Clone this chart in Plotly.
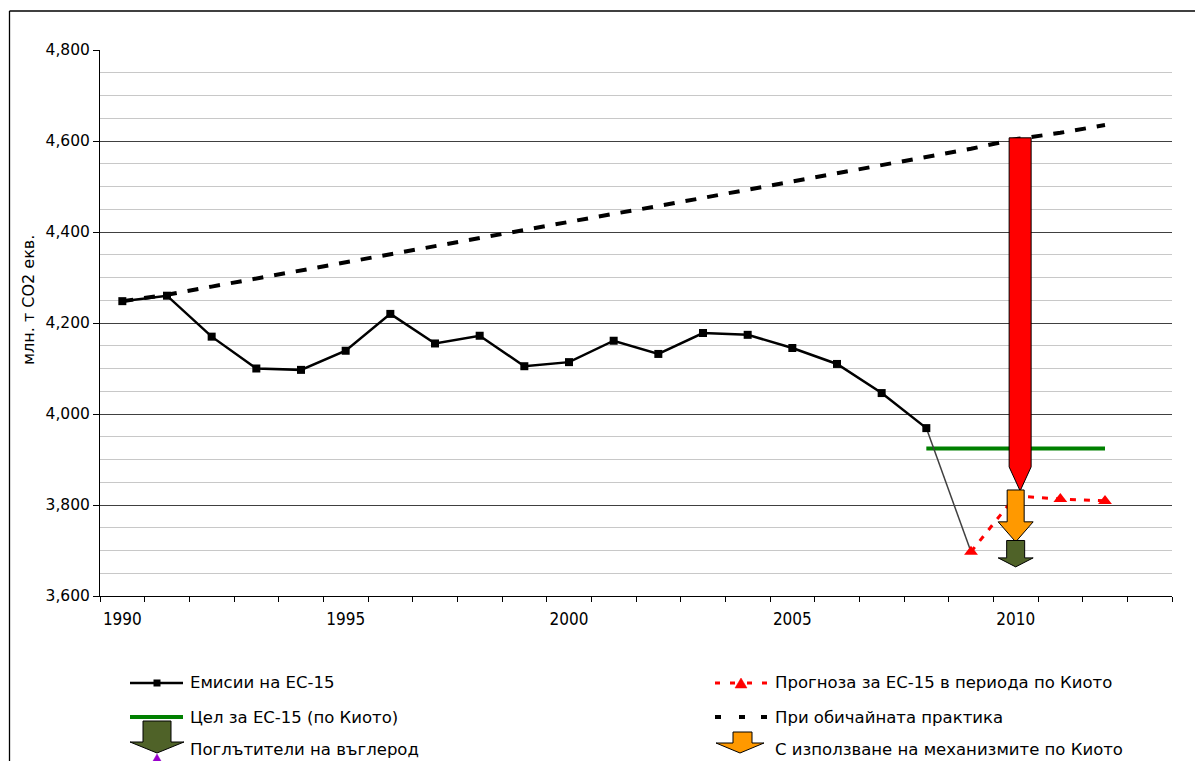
import plotly.graph_objects as go

# ---------------- data ----------------
years = list(range(1990, 2013))
emission_years = list(range(1990, 2009))
emissions = [4248, 4260, 4170, 4100, 4097, 4139, 4220, 4155, 4172, 4105,
             4114, 4161, 4132, 4178, 4174, 4145, 4110, 4046, 3969]
projection_years = [2009, 2010, 2011, 2012]
projection = [3697, 3820, 3813, 3809]
target_years = [2008, 2012]
target = [3924, 3924]
bau = [4248, 4262, 4280, 4298, 4316, 4334, 4351, 4369, 4386, 4404, 4422, 4440,
       4457, 4475, 4492, 4510, 4529, 4547, 4565, 4583, 4604, 4618, 4635]
arrow_year = 2010
red_cut = [4607, 3831]      # BAU -> Kyoto period projection
mech_cut = [3833, 3719]     # Kyoto mechanisms
sinks_cut = [3722, 3664]    # carbon sinks
x_tick_labels = ["1990", "1995", "2000", "2005", "2010"]
y_tick_values = [3600, 3800, 4000, 4200, 4400, 4600, 4800]

names = {
    "em": "Емисии на ЕС-15",
    "proj": "Прогноза за ЕС-15 в периода по Киото",
    "target": "Цел за ЕС-15 (по Киото)",
    "bau": "При обичайната практика",
    "sinks": "Поглътители на въглерод",
    "mech": "С използване на механизмите по Киото",
}

# ---------------- layout constants ----------------
W, H = 1195, 761
L, R, T, B = 100, 23, 50, 165
PW, PH = W - L - R, H - T - B
YMIN, YMAX = 3600, 4800
XMIN, XMAX = 1989.5, 2013.5
UNIT_PX = PH / (YMAX - YMIN)        # px per y unit
YEAR_PX = PW / (XMAX - XMIN)        # px per year

FONT = "DejaVu Sans, Verdana, sans-serif"
OLIVE = "#4F6228"
ORANGE = "#FF9900"


def pxx(p):
    return (p - L) / PW


def pxy(p):
    return (H - B - p) / PH


fig = go.Figure()

# BAU dashed line
fig.add_trace(go.Scatter(x=years, y=bau, mode="lines", name=names["bau"],
                         line=dict(color="black", width=4, dash="11px,11px"),
                         showlegend=False))
# Kyoto target
fig.add_trace(go.Scatter(x=target_years, y=target, mode="lines", name=names["target"],
                         line=dict(color="#008000", width=4), showlegend=False))
# connector 2008 -> 2009
fig.add_trace(go.Scatter(x=[emission_years[-1], projection_years[0]],
                         y=[emissions[-1], projection[0]], mode="lines",
                         line=dict(color="#404040", width=1.5), showlegend=False,
                         hoverinfo="skip"))
# emissions
fig.add_trace(go.Scatter(x=emission_years, y=emissions, mode="lines+markers",
                         name=names["em"],
                         line=dict(color="black", width=2.5),
                         marker=dict(symbol="square", size=8, color="black"),
                         showlegend=False))
# projection
fig.add_trace(go.Scatter(x=projection_years, y=projection, mode="lines+markers",
                         name=names["proj"],
                         line=dict(color="#FF0000", width=3, dash="6px,8px"),
                         marker=dict(symbol="triangle-up", size=12, color="#FF0000"),
                         showlegend=False))

shapes = []


def block_arrow(xc, top, bottom, body_half_px, head_half_px, head_len_px, color):
    bh = body_half_px / YEAR_PX
    hh = head_half_px / YEAR_PX
    hl = head_len_px / UNIT_PX
    neck = bottom + hl
    pts = [(xc - bh, top), (xc + bh, top), (xc + bh, neck), (xc + hh, neck),
           (xc, bottom), (xc - hh, neck), (xc - bh, neck)]
    path = "M " + " L ".join(f"{a},{b}" for a, b in pts) + " Z"
    return dict(type="path", path=path, xref="x", yref="y", layer="above",
                fillcolor=color, line=dict(color="black", width=1))


# main arrows (data coordinates)
shapes.append(block_arrow(arrow_year + 0.1, red_cut[0], red_cut[1], 11, 11, 24, "#FF0000"))
shapes.append(block_arrow(arrow_year, mech_cut[0], mech_cut[1], 8.5, 17.5, 20, ORANGE))
shapes.append(block_arrow(arrow_year, sinks_cut[0], sinks_cut[1], 9, 17.5, 9, OLIVE))

# chart frame (top + left)
shapes.append(dict(type="line", xref="paper", yref="paper", x0=pxx(9.5), x1=pxx(W + 5),
                   y0=pxy(11), y1=pxy(11), line=dict(color="black", width=1.3)))
shapes.append(dict(type="line", xref="paper", yref="paper", x0=pxx(9.5), x1=pxx(9.5),
                   y0=pxy(11), y1=pxy(H + 5), line=dict(color="black", width=1.3)))

# ---------------- manual legend ----------------
rows = [683, 717, 750]
lx0, lx1, ltx = 130, 183, 188
rx0, rx1, rtx = 715, 767, 773


def pline(x0, x1, y, color, width):
    return dict(type="line", xref="paper", yref="paper", x0=pxx(x0), x1=pxx(x1),
                y0=pxy(y), y1=pxy(y), line=dict(color=color, width=width))


def ppath(pts, color, lc="black", lw=1):
    path = "M " + " L ".join(f"{pxx(a)},{pxy(b)}" for a, b in pts) + " Z"
    return dict(type="path", path=path, xref="paper", yref="paper",
                fillcolor=color, line=dict(color=lc, width=lw))


# emissions
shapes.append(pline(lx0, lx1, rows[0], "black", 2.5))
shapes.append(dict(type="rect", xref="paper", yref="paper", x0=pxx(153.5), x1=pxx(160.5),
                   y0=pxy(679.5), y1=pxy(686.5), fillcolor="black", line=dict(width=0)))
# projection: short red dashes + triangle
for a, b in [(715, 720), (730, 735), (747, 752), (762, 767)]:
    shapes.append(pline(a, b, rows[0], "#FF0000", 3))
shapes.append(ppath([(735, 688), (747, 688), (741, 678)], "#FF0000", "#FF0000", 0.5))
# target
shapes.append(pline(lx0, lx1, rows[1], "#008000", 4))
# bau: three short dashes
for a, b in [(715, 721), (739, 745), (761, 767)]:
    shapes.append(pline(a, b, rows[1], "black", 4))
# sinks
shapes.append(ppath([(143, 721), (171, 721), (171, 742), (184, 742), (157, 753),
                     (130, 742), (143, 742)], OLIVE))
shapes.append(ppath([(153, 761), (161, 761), (157, 754)], "#9900CC", "#9900CC", 0.5))
# mechanisms
shapes.append(ppath([(733, 732), (752, 732), (752, 743), (764, 743), (740, 753),
                     (716, 743), (733, 743)], ORANGE))

annotations = []
for (key, xx, yy) in [("em", ltx, rows[0]), ("target", ltx, rows[1]), ("sinks", ltx, rows[2]),
                      ("proj", rtx, rows[0]), ("bau", rtx, rows[1]), ("mech", rtx, rows[2])]:
    annotations.append(dict(text=names[key], xref="paper", yref="paper", x=pxx(xx), y=pxy(yy),
                            xanchor="left", yanchor="middle", showarrow=False,
                            font=dict(family=FONT, size=16.5, color="black")))
# y-axis title
annotations.append(dict(text="млн. т CO2 екв.", xref="paper", yref="paper", x=pxx(28), y=pxy(300),
                        xanchor="center", yanchor="middle", textangle=-90, showarrow=False,
                        font=dict(family=FONT, size=16, color="black")))

fig.update_layout(
    width=W, height=H,
    margin=dict(l=L, r=R, t=T, b=B, pad=0),
    paper_bgcolor="white", plot_bgcolor="white",
    showlegend=False,
    shapes=shapes,
    annotations=annotations,
    xaxis=dict(range=[XMIN, XMAX], tickvals=[int(t) for t in x_tick_labels], ticktext=x_tick_labels,
               ticks="", showgrid=False, zeroline=False, showline=True, linecolor="black",
               linewidth=1,
               tickfont=dict(family="Liberation Sans Narrow, Arial Narrow, DejaVu Sans Condensed, sans-serif",
                             size=17, color="black"),
               ticklabelstandoff=8,
               minor=dict(tick0=XMIN, dtick=1, ticks="outside", ticklen=5, tickcolor="black",
                          showgrid=False)),
    yaxis=dict(range=[YMIN, YMAX], tickvals=y_tick_values, tickformat=",d",
               ticks="outside", ticklen=6, tickcolor="black",
               showgrid=True, gridcolor="#404040", gridwidth=1,
               zeroline=False, showline=True, linecolor="black", linewidth=1,
               tickfont=dict(family=FONT, size=15.5, color="black"),
               minor=dict(dtick=50, showgrid=True, gridcolor="#c8c8c8", gridwidth=1, ticks="")),
)

fig.write_html("out.html", config={"displayModeBar": False},
               post_script="document.body.style.margin='0';document.body.style.overflow='hidden';")
